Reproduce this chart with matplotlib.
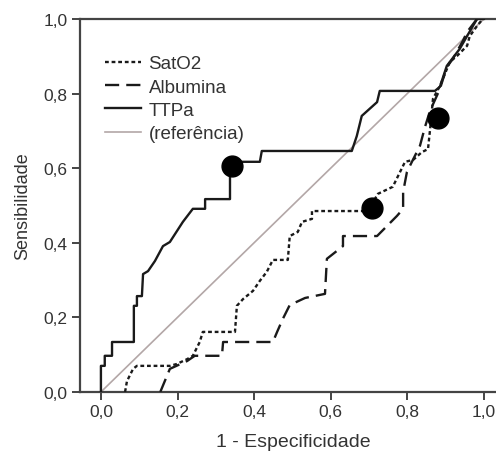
import matplotlib
matplotlib.use("Agg")
import matplotlib.pyplot as plt
from matplotlib.ticker import FuncFormatter

plt.rcParams['font.family'] = ['Liberation Sans', 'DejaVu Sans']

# curvas ROC (1 - especificidade, sensibilidade)
ttpa_x = [0.0, 0.0, 0.010, 0.010, 0.029, 0.029, 0.086, 0.086, 0.094, 0.094, 0.107,
          0.110, 0.123, 0.141, 0.162, 0.180, 0.214, 0.240, 0.272, 0.272, 0.337,
          0.337, 0.415, 0.420, 0.655, 0.668, 0.681, 0.721, 0.728, 0.872, 0.885,
          0.903, 0.937, 0.956, 0.982, 1.0]
ttpa_y = [0.0, 0.070, 0.070, 0.097, 0.097, 0.134, 0.134, 0.231, 0.231, 0.257, 0.257,
          0.316, 0.324, 0.351, 0.391, 0.402, 0.456, 0.491, 0.491, 0.517, 0.517,
          0.617, 0.617, 0.646, 0.646, 0.686, 0.740, 0.777, 0.807, 0.807, 0.818,
          0.874, 0.920, 0.954, 1.0, 1.0]

sat_x = [0.063, 0.068, 0.084, 0.094, 0.180, 0.198, 0.225, 0.240, 0.258, 0.266,
         0.350, 0.355, 0.371, 0.397, 0.415, 0.433, 0.449, 0.488, 0.493, 0.514,
         0.525, 0.551, 0.551, 0.697, 0.723, 0.762, 0.794, 0.815, 0.838, 0.854,
         0.859, 0.867, 0.885, 0.911, 0.930, 0.956, 0.963, 0.982, 0.997, 1.0]
sat_y = [0.0, 0.029, 0.062, 0.070, 0.070, 0.075, 0.088, 0.097, 0.134, 0.161,
         0.161, 0.231, 0.249, 0.271, 0.298, 0.322, 0.354, 0.354, 0.418, 0.429,
         0.456, 0.464, 0.485, 0.485, 0.531, 0.550, 0.617, 0.622, 0.643, 0.651,
         0.700, 0.786, 0.820, 0.885, 0.901, 0.928, 0.954, 0.981, 1.0, 1.0]

alb_x = [0.155, 0.180, 0.225, 0.245, 0.316, 0.319, 0.449, 0.460, 0.475, 0.493,
         0.533, 0.585, 0.590, 0.632, 0.632, 0.721, 0.773, 0.789, 0.789, 0.799,
         0.812, 0.833, 0.846, 0.859, 0.885, 0.903, 0.919, 0.945, 0.956, 0.982, 1.0]
alb_y = [0.0, 0.062, 0.083, 0.097, 0.097, 0.134, 0.134, 0.161, 0.196, 0.233,
         0.252, 0.263, 0.357, 0.391, 0.418, 0.418, 0.472, 0.491, 0.536, 0.590,
         0.617, 0.660, 0.710, 0.753, 0.812, 0.871, 0.893, 0.941, 0.965, 1.0, 1.0]

# pontos de corte marcados
cut_x = [0.342, 0.708, 0.880]
cut_y = [0.606, 0.494, 0.735]

fig = plt.figure(figsize=(4.96, 4.60), dpi=100)
ax = fig.add_axes([0.161, 0.1457, 0.861, 0.811])

ax.plot([0, 1], [0, 1], color='#b3a7a7', lw=1.2, label='(referência)', zorder=2)
ax.plot(sat_x, sat_y, color='#1a1a1a', lw=1.7, linestyle=(0, (1.6, 1.2)), label='SatO2', zorder=3)
ax.plot(alb_x, alb_y, color='#1a1a1a', lw=1.7, linestyle=(0, (6, 3)), label='Albumina', zorder=3)
ax.plot(ttpa_x, ttpa_y, color='#1a1a1a', lw=1.7, label='TTPa', zorder=3)
ax.plot(cut_x, cut_y, 'o', color='black', ms=15, zorder=4)

ax.set_xlim(-0.055, 1.06)
ax.set_ylim(0, 1.0)
ticks = [0, 0.2, 0.4, 0.6, 0.8, 1.0]
ax.set_xticks(ticks)
ax.set_yticks(ticks)
fmt = FuncFormatter(lambda v, p: ('%.1f' % v).replace('.', ','))
ax.xaxis.set_major_formatter(fmt)
ax.yaxis.set_major_formatter(fmt)
ax.tick_params(direction='out', length=6, width=1.4, color='#444444',
               labelsize=12.5, labelcolor='#333333', pad=3)

for s in ax.spines.values():
    s.set_color('#444444')
    s.set_linewidth(1.6)
ax.spines['right'].set_visible(False)

ax.set_xlabel('1 - Especificidade', fontsize=14, color='#333333', labelpad=10)
ax.set_ylabel('Sensibilidade', fontsize=13, color='#333333', labelpad=9)

h, l = ax.get_legend_handles_labels()
order = [1, 2, 3, 0]
ax.legend([h[i] for i in order], [l[i] for i in order], loc='upper left',
          bbox_to_anchor=(0.06, 0.903), frameon=False, borderpad=0, borderaxespad=0,
          fontsize=13.5, handlelength=1.9, handletextpad=0.4, labelspacing=0.33,
          labelcolor='#333333')

plt.savefig('out.png', dpi=100)
